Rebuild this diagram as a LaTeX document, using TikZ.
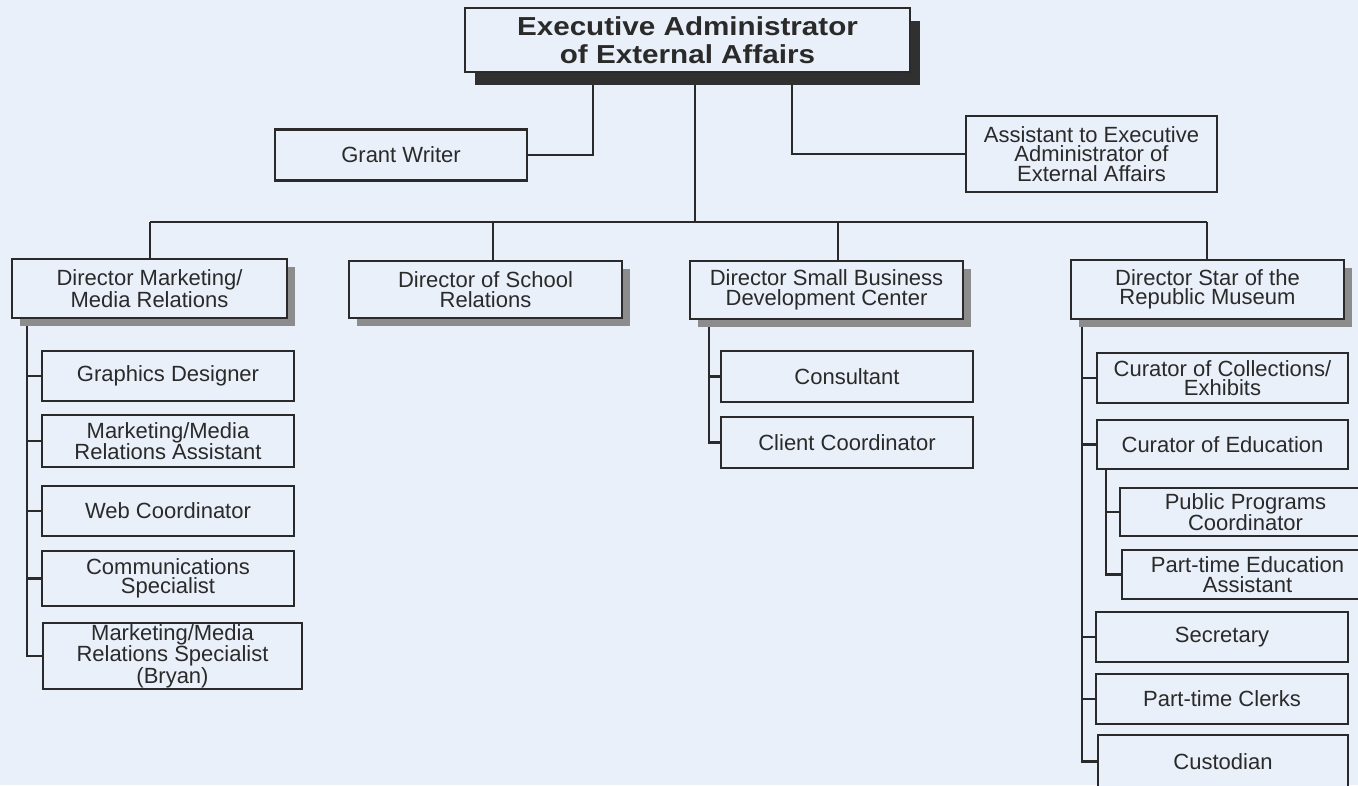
\documentclass[tikz,border=0pt]{standalone}
\usepackage{fontspec}
\setmainfont{Liberation Sans}
\usetikzlibrary{shadows}
\definecolor{bgc}{RGB}{234,240,249}
\definecolor{ink}{RGB}{42,42,42}
\definecolor{shdark}{RGB}{48,48,48}
\definecolor{shgray}{RGB}{140,140,140}
\pgfdeclarelayer{backlayer}
\pgfdeclarelayer{linelayer}
\pgfsetlayers{backlayer,linelayer,main}
\tikzset{
  box/.style={draw=ink, line width=2.3pt, fill=bgc, inner sep=0pt, align=center, text=ink,
    font=\fontsize{22}{19.5}\selectfont},
  dirbox/.style={box, drop shadow={shadow xshift=8pt, shadow yshift=-8pt, fill=shgray, opacity=1}},
  topbox/.style={box, font=\bfseries\fontsize{26}{27.7}\selectfont,
    drop shadow={shadow xshift=10pt, shadow yshift=-13pt, fill=shdark, opacity=1}},
  link/.style={draw=ink, line width=2.5pt},
}
\begin{document}
\begin{tikzpicture}[x=1pt,y=-1pt]
\path[use as bounding box] (0,0) rectangle (1358,785);
\clip (0,0) rectangle (1358,785);
\begin{pgfonlayer}{backlayer}
\fill[bgc] (0,0) rectangle (1358,785);
\end{pgfonlayer}

% top level
\node[topbox, minimum width=445, minimum height=64] (top) at (687.5,40)
  {\scalebox{1.14}[1]{Executive Administrator}\\\scalebox{1.14}[1]{of External Affairs}};
\node[box, minimum width=252, minimum height=51] (grant) at (401,155) {Grant Writer};
\node[box, minimum width=251, minimum height=76] (assist) at (1091.5,154)
  {Assistant to Executive\\Administrator of\\External Affairs};

% directors
\node[dirbox, minimum width=275, minimum height=59] (dmkt) at (149.5,288.5) {Director Marketing/\\Media Relations};
\node[dirbox, minimum width=273, minimum height=57] (dsch) at (485.5,289.5) {Director of School\\Relations};
\node[dirbox, minimum width=273, minimum height=58] (dsbd) at (826.5,290) {Director Small Business\\Development Center};
\node[dirbox, minimum width=273, minimum height=59] (dstar) at (1207.5,289.5) {Director Star of the\\Republic Museum};

% marketing staff
\node[box, minimum width=252, minimum height=50] (gd) at (168,376) {Graphics Designer};
\node[box, minimum width=252, minimum height=52] (mma) at (168,441) {Marketing/Media\\Relations Assistant};
\node[box, minimum width=252, minimum height=50] (web) at (168,511) {Web Coordinator};
\node[box, minimum width=252, minimum height=55] (comm) at (168,578.5) {Communications\\Specialist};
\node[box, minimum width=259, minimum height=66] (bryan) at (172.5,656) {Marketing/Media\\Relations Specialist\\(Bryan)};

% small business staff
\node[box, minimum width=252, minimum height=51] (cons) at (847,376.5) {Consultant};
\node[box, minimum width=252, minimum height=51] (client) at (847,442.5) {Client Coordinator};

% museum staff
\node[box, minimum width=251, minimum height=50] (ccol) at (1222.5,378) {Curator of Collections/\\Exhibits};
\node[box, minimum width=251, minimum height=49] (cedu) at (1222.5,444.5) {Curator of Education};
\node[box, minimum width=251, minimum height=48] (ppc) at (1245.5,512) {Public Programs\\Coordinator};
\node[box, minimum width=251, minimum height=49] (pte) at (1247.5,574.5) {Part-time Education\\Assistant};
\node[box, minimum width=252, minimum height=50] (sec) at (1222,637) {Secretary};
\node[box, minimum width=252, minimum height=50] (clerk) at (1222,699) {Part-time Clerks};
\node[box, minimum width=250, minimum height=53] (cust) at (1223,761.5) {Custodian};

% connectors
\begin{pgfonlayer}{linelayer}
\coordinate (tg) at (593,72);
\coordinate (ta) at (792,72);
\coordinate (tc) at (695,72);
\coordinate (bus) at (695,222);
\coordinate (bL) at (150,222);
\coordinate (b2) at (493,222);
\coordinate (b3) at (838,222);
\coordinate (bR) at (1207,222);
\draw[link] (tg) |- (grant.east);
\draw[link] (ta) |- (assist.west);
\draw[link] (tc) -- (bus);
\draw[link] (bL) -- (bR);
\draw[link] (bL) -- (bL |- dmkt.north);
\draw[link] (b2) -- (b2 |- dsch.north);
\draw[link] (b3) -- (b3 |- dsbd.north);
\draw[link] (bR) -- (bR |- dstar.north);

\coordinate (mv) at (27,318);
\draw[link] (mv) |- (bryan.west);
\foreach \n in {gd,mma,web,comm} \draw[link] (mv |- \n.west) -- (\n.west);

\coordinate (sv) at (709,319);
\draw[link] (sv) |- (client.west);
\draw[link] (sv |- cons.west) -- (cons.west);

\coordinate (rv) at (1082,319);
\draw[link] (rv) |- (cust.west);
\foreach \n in {ccol,cedu,sec,clerk} \draw[link] (rv |- \n.west) -- (\n.west);

\coordinate (ev) at (1106,469);
\draw[link] (ev) |- (pte.west);
\draw[link] (ev |- ppc.west) -- (ppc.west);
\end{pgfonlayer}
\end{tikzpicture}
\end{document}
